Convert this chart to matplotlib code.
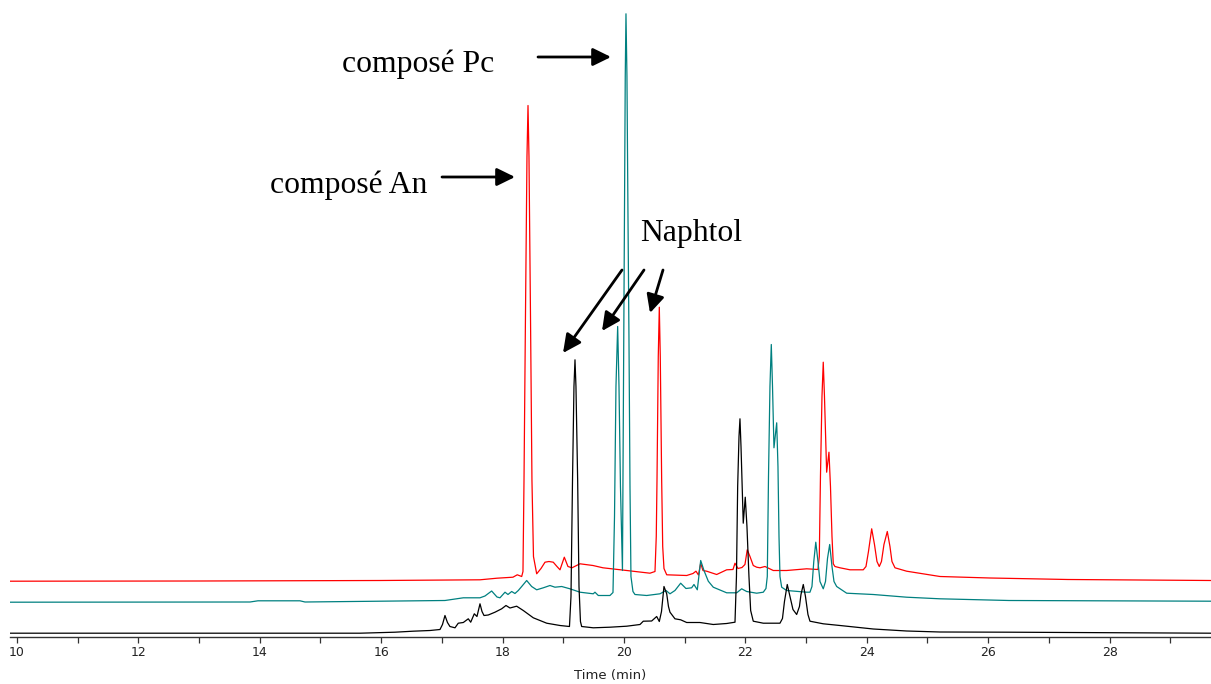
import matplotlib
matplotlib.use("Agg")
import matplotlib.pyplot as plt
from matplotlib.ticker import MultipleLocator
from matplotlib.patches import FancyArrowPatch

# ---------------- data (time in min, signal in arbitrary units, offsets included) -------------
red_t = [9.885, 13.015, 15.980, 17.628, 17.908, 18.171, 18.242, 18.315, 18.336, 18.353,
         18.377, 18.402, 18.419, 18.435, 18.460, 18.484, 18.509, 18.562, 18.633, 18.699,
         18.764, 18.835, 18.896, 18.946, 19.017, 19.077, 19.143, 19.275, 19.489, 19.654,
         20.045, 20.428, 20.511, 20.532, 20.544, 20.565, 20.582, 20.598, 20.621, 20.638,
         20.659, 20.704, 21.033, 21.137, 21.186, 21.227, 21.264, 21.301, 21.362, 21.527,
         21.692, 21.796, 21.829, 21.878, 21.944, 21.993, 22.031, 22.076, 22.130, 22.186,
         22.241, 22.323, 22.460, 22.680, 23.010, 23.196, 23.218, 23.237, 23.262, 23.283,
         23.303, 23.339, 23.377, 23.402, 23.427, 23.448, 23.476, 23.559, 23.723, 23.942,
         23.987, 24.028, 24.081, 24.127, 24.168, 24.206, 24.242, 24.283, 24.338, 24.382,
         24.415, 24.465, 24.657, 25.206, 26.030, 27.315, 29.671]
red_y = [55.3, 55.5, 56.0, 56.7, 58.3, 59.3, 61.7, 60.0, 65.0, 156.0,
         320.0, 480.0, 531.0, 480.0, 320.0, 156.0, 80.0, 62.7, 68.0, 74.3,
         75.0, 74.3, 70.0, 66.7, 79.3, 70.0, 68.7, 72.7, 71.0, 68.7,
         66.0, 63.3, 65.0, 100.0, 156.0, 280.0, 329.3, 280.0, 156.0, 90.0,
         68.0, 61.7, 61.0, 63.0, 65.3, 61.5, 73.3, 66.0, 65.3, 62.0,
         66.7, 67.0, 73.3, 68.0, 69.0, 72.0, 86.7, 80.0, 71.0, 69.3,
         68.7, 70.0, 66.0, 66.0, 67.7, 67.0, 80.0, 160.0, 240.0, 274.3,
         240.0, 164.3, 184.3, 150.0, 100.0, 72.7, 70.0, 68.7, 66.7, 66.7,
         70.0, 85.0, 107.7, 92.0, 75.0, 70.0, 75.0, 92.0, 105.0, 90.0,
         75.0, 68.7, 65.3, 60.0, 58.5, 57.0, 56.0]

teal_t = [9.885, 13.839, 13.970, 14.662, 14.745, 15.980, 17.051, 17.353, 17.628, 17.710,
          17.820, 17.908, 17.957, 18.040, 18.089, 18.150, 18.204, 18.259, 18.315, 18.397,
          18.479, 18.562, 18.671, 18.781, 18.863, 18.974, 19.110, 19.275, 19.494, 19.522,
          19.577, 19.769, 19.819, 19.844, 19.868, 19.896, 19.918, 19.942, 19.975, 19.992,
          20.008, 20.021, 20.033, 20.049, 20.066, 20.082, 20.099, 20.115, 20.148, 20.181,
          20.374, 20.593, 20.692, 20.758, 20.840, 20.934, 21.021, 21.115, 21.153, 21.208,
          21.264, 21.318, 21.389, 21.471, 21.692, 21.857, 21.939, 22.021, 22.186, 22.295,
          22.339, 22.361, 22.381, 22.405, 22.427, 22.447, 22.471, 22.516, 22.537, 22.554,
          22.570, 22.598, 22.680, 23.010, 23.064, 23.097, 23.127, 23.160, 23.196, 23.229,
          23.283, 23.320, 23.353, 23.389, 23.427, 23.460, 23.504, 23.669, 24.107, 24.657,
          25.206, 26.343, 29.671]
teal_y = [34.3, 34.5, 35.7, 35.7, 34.5, 35.3, 36.0, 38.7, 38.7, 40.5,
          45.5, 39.5, 38.7, 44.3, 42.0, 45.0, 43.0, 46.0, 50.0, 56.0,
          50.0, 46.7, 48.7, 51.0, 49.3, 50.0, 47.7, 44.3, 42.7, 44.3,
          41.0, 41.0, 44.0, 120.0, 250.0, 310.0, 250.0, 150.0, 66.0, 250.0,
          420.0, 560.0, 622.7, 560.0, 420.0, 300.0, 150.0, 60.0, 45.0, 42.0,
          41.0, 42.7, 46.0, 42.7, 46.0, 53.3, 48.0, 48.7, 52.0, 46.7,
          76.0, 66.0, 55.3, 49.3, 43.7, 43.7, 47.7, 45.0, 43.3, 44.3,
          48.0, 60.0, 160.0, 250.0, 292.0, 250.0, 188.7, 213.7, 170.0, 100.0,
          60.0, 49.3, 46.0, 44.3, 44.3, 50.0, 75.0, 94.3, 75.0, 55.0,
          47.7, 55.0, 78.0, 92.0, 70.0, 55.0, 50.0, 43.3, 42.0, 39.3,
          37.7, 36.0, 35.3]

black_t = [9.885, 15.651, 16.227, 16.524, 16.804, 16.969, 17.010, 17.051, 17.092, 17.133,
           17.216, 17.270, 17.353, 17.435, 17.475, 17.534, 17.578, 17.628, 17.661, 17.694,
           17.764, 17.875, 17.985, 18.056, 18.122, 18.232, 18.341, 18.506, 18.727, 18.946,
           19.102, 19.127, 19.152, 19.176, 19.193, 19.209, 19.237, 19.259, 19.283, 19.303,
           19.494, 19.769, 20.045, 20.264, 20.318, 20.456, 20.539, 20.582, 20.618, 20.659,
           20.704, 20.733, 20.758, 20.840, 20.934, 21.033, 21.252, 21.471, 21.692, 21.829,
           21.853, 21.873, 21.895, 21.911, 21.928, 21.965, 21.998, 22.026, 22.059, 22.087,
           22.130, 22.295, 22.570, 22.611, 22.644, 22.690, 22.735, 22.784, 22.845, 22.891,
           22.916, 22.954, 22.990, 23.031, 23.064, 23.283, 23.559, 24.107, 24.657, 25.206,
           26.343, 29.671]
black_y = [3.3, 3.3, 4.3, 5.3, 6.0, 7.0, 12.0, 21.0, 14.0, 10.0,
           8.7, 13.3, 14.0, 17.7, 14.3, 22.7, 20.0, 32.7, 25.0, 21.0,
           21.5, 24.3, 27.7, 31.0, 28.5, 30.3, 26.0, 18.7, 13.3, 11.0,
           10.0, 40.0, 156.0, 250.0, 276.7, 250.0, 156.0, 50.0, 15.0, 10.0,
           8.7, 9.3, 10.3, 12.0, 15.3, 15.5, 20.0, 15.0, 25.0, 50.0,
           42.7, 30.0, 24.3, 17.7, 16.7, 14.0, 14.0, 12.0, 13.0, 14.3,
           60.0, 150.0, 200.0, 217.7, 190.0, 113.3, 139.3, 110.0, 60.0, 26.0,
           15.3, 13.3, 13.3, 18.0, 35.0, 52.0, 40.0, 27.0, 22.0, 30.0,
           42.0, 52.0, 40.0, 22.0, 15.3, 12.7, 11.0, 7.5, 5.5, 4.5,
           4.3, 3.3]

major_ticks = [10, 12, 14, 16, 18, 20, 22, 24, 26, 28]
tick_labels = [str(v) for v in major_ticks]
x_label = "Time (min)"

# ---------------- figure ----------------
W, H = 1211, 684
fig = plt.figure(figsize=(W / 100, H / 100), dpi=100)

def fpos(x, y):
    return (x / W, 1 - y / H)

ax_bottom_px = 636.5
ax = fig.add_axes([10 / W, 1 - ax_bottom_px / H, (W - 10) / W, ax_bottom_px / H])
ax.set_xlim(9.885, 29.671)
ax.set_ylim(0, ax_bottom_px)

ax.plot(red_t, red_y, color="#ff0000", lw=0.9)
ax.plot(teal_t, teal_y, color="#008080", lw=0.9)
ax.plot(black_t, black_y, color="#000000", lw=0.9)

for s in ("left", "right", "top"):
    ax.spines[s].set_visible(False)
ax.spines["bottom"].set_color("#333333")
ax.spines["bottom"].set_linewidth(1.0)
ax.set_yticks([])
ax.set_xticks(major_ticks)
ax.set_xticklabels(tick_labels, fontsize=9, family="DejaVu Sans", color="#222222")
ax.xaxis.set_minor_locator(MultipleLocator(1))
ax.tick_params(axis="x", which="both", direction="out", length=4, width=0.9,
               color="#333333", pad=3)

fig.text(*fpos(610, 676), x_label, ha="center", va="center", fontsize=9.5,
         family="DejaVu Sans", color="#222222")

# ---------------- annotations ----------------
serif = "Liberation Serif"
fig.text(*fpos(342, 72), "composé Pc", ha="left", va="baseline", fontsize=22.8, family=serif)
fig.text(*fpos(270, 193), "composé An", ha="left", va="baseline", fontsize=22.8, family=serif)
fig.text(*fpos(640, 241), "Naphtol", ha="left", va="baseline", fontsize=22.8, family=serif)

arrows = [((538, 57), (611, 57)),
          ((442, 177), (515, 177)),
          ((622, 270), (563, 353)),
          ((644, 270), (602, 331)),
          ((663, 270), (650, 313))]
for tail, tip in arrows:
    a = FancyArrowPatch(fpos(*tail), fpos(*tip), transform=fig.transFigure,
                        arrowstyle="-|>,head_length=0.55,head_width=0.27",
                        mutation_scale=20, lw=2.0, color="black",
                        shrinkA=0, shrinkB=0)
    fig.patches.append(a)

fig.savefig("out.png", dpi=100)
